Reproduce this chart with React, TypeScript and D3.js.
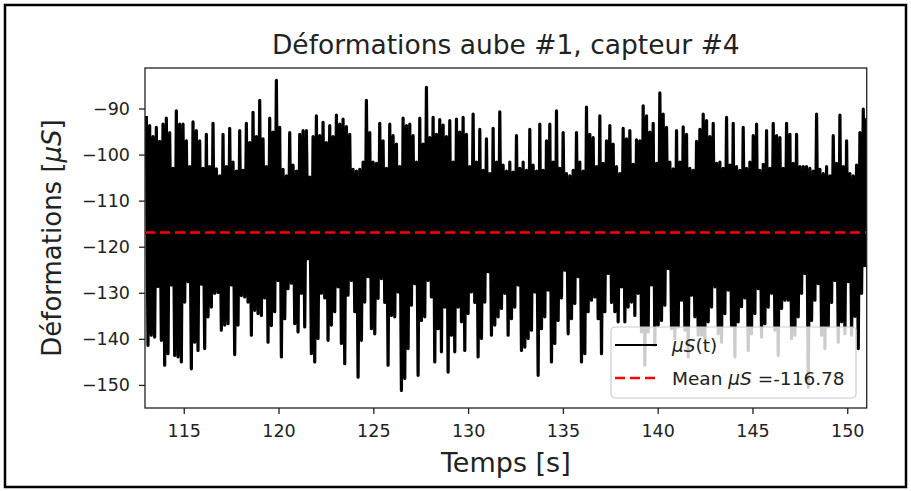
import React from "react";
import * as d3 from "d3";

const W = 911;
const H = 491;

// sampling of the displayed signal (one high/low oscillation per period)
const sampleStart = 113.0;
const samplePeriod = 0.1759;

const peaksHigh = [
  -91.5, -93.6, -96, -94, -97, -93.3, -92, -95.1, -102.9, -90.4,
  -93.3, -93.3, -96.9, -102.5, -92.8, -94.7, -96.9, -102.9, -95.5, -102.5,
  -93.1, -103, -104.5, -95.5, -102.5, -94.2, -101.5, -103.5, -94.7, -103.3,
  -93.1, -97.3, -90.7, -96, -88.1, -96.5, -102.5, -92, -95, -83.8,
  -94, -103.1, -104.5, -95.1, -102.2, -103.5, -95.5, -94.7, -94.7, -104.8,
  -96, -91.5, -95.8, -92.9, -97.3, -93.6, -96, -91.3, -93.3, -92.2,
  -93.8, -95.5, -103.1, -103.5, -103.1, -101.5, -88.1, -95.1, -101.5, -101.8,
  -93.1, -96.9, -102.9,
  -93.3, -95.8, -97.6, -102.5, -92, -93.6, -93.3, -95.8, -101.5, -92,
  -97.6, -85.3, -96.2, -91.8, -95.5, -92.3, -93.5, -96, -92.5, -101.5,
  -92.2, -95, -91.8, -95.5, -102.5, -91.1, -101.5, -94.4, -103.3, -96.5,
  -104, -94.2, -101.5, -90.6, -102.2, -103.5, -101.5, -103.7, -95.8, -102.9,
  -101.5, -103.3, -94.4, -102.2, -103.5, -93.3, -103.3, -96.9, -93.3, -101.5,
  -90.4, -102.9, -95.1, -104, -104.5, -103.3, -95.1, -101.5, -103.5, -89.6,
  -95.5, -96.2, -102.5, -91.5, -101.8, -96.9, -93.6, -97.6, -102.5, -104,
  -94.2, -96.5,
  -94.7, -102, -96.7, -96.9, -89.3, -91.5, -95, -93.1, -101.8, -86.5,
  -91.1, -94, -101.5, -103, -94.7, -101.5, -93.9, -95.5, -102.9, -103.3,
  -97, -94.4, -91.1, -92.5, -96, -93.1, -101.8, -101.5, -102.9, -91.8,
  -102.2, -93.1, -102.5, -103.3, -94, -102.9, -101.5, -95.8, -93.3, -103.3,
  -102, -94.7, -102.9, -93.1, -95.8, -96.2, -102.9, -93.1, -95.5, -101.8,
  -95.5, -102.5, -102.5, -102.5, -102.9, -103.5, -91.1, -103.1, -104, -102.5,
  -104.5, -95.8, -101.8, -91.3, -102.5, -96.9, -104, -104.5, -102.2, -95.1,
  -90, -92.2,
];

const peaksLow = [
  -141.3, -139.1, -139.5, -128.5, -140.2, -145.6, -143.1, -128.2, -143.5, -143.8,
  -144.9, -131.9, -127.5, -146.4, -140.6, -142.4, -128, -142, -135.1, -133,
  -130, -129.8, -138, -136.9, -136.6, -128.2, -143.3, -136.9, -130.5, -130.8,
  -131.9, -139.1, -133.7, -134.4, -134.8, -131, -140.6, -137, -134, -127.2,
  -143.8, -135.5, -129, -127.8, -136.6, -138.4, -130, -137.3, -122.5, -143.1,
  -144.9, -139.8, -130, -131, -140.2, -136.9, -134, -128.6, -140.9, -145.3,
  -130.4, -127.2, -134, -148.2, -140.2, -131.9, -126.4, -137.7, -138.8, -131.1,
  -126.8, -132, -145.6,
  -134.8, -135.1, -129.7, -151.1, -148.5, -142, -132.6, -127.9, -147.8, -135.9,
  -135.1, -127.2, -130.8, -144.9, -137.7, -142.7, -133, -147.1, -139.1, -142.7,
  -133, -136.2, -142.4, -134.4, -129.7, -132, -143.8, -139.8, -131.9, -125.3,
  -139.1, -136.9, -135.1, -133.3, -130, -139.1, -135.5, -133, -128.2, -142.4,
  -141.7, -139.8, -138, -129.7, -147.8, -137.7, -135.1, -129.3, -144.9, -140.9,
  -135.9, -131, -125, -138.8, -135.5, -132.2, -126.4, -144.9, -143.1, -134,
  -131.5, -130.8, -135.5, -143.1, -134, -125.7, -132, -134, -136.2, -128.6,
  -136.2, -133,
  -131.9, -134.8, -130, -138.4, -145.6, -138.4, -128.2, -141.3, -136.9, -135.9,
  -132.6, -124.6, -137.7, -139.8, -137.3, -131.5, -138, -143.8, -130.4, -135.1,
  -139.1, -139.1, -139.8, -136.2, -133, -128.6, -138.8, -140.6, -134.4, -129.3,
  -137, -143.8, -136.2, -132.9, -131, -142.4, -138.8, -134.4, -129, -139.5,
  -136.6, -133, -130, -138, -143.5, -133.3, -131.5, -131.5, -139.8, -139.1,
  -135.1, -130, -125.7, -150.4, -135.9, -131.5, -127.9, -139.1, -142, -137.3,
  -132, -127.2, -140.6, -136.2, -138.8, -127.5, -139.1, -135, -142, -130,
  -124, -127,
];

const meanValue = -116.78;
const xTicks = [115, 120, 125, 130, 135, 140, 145, 150];
const yTicks = [-150, -140, -130, -120, -110, -100, -90];
const xDomain = [112.93, 151.0];
const yDomain = [-154.9, -81.1];

const titleText = "Déformations aube #1, capteur #4";
const xLabelText = "Temps [s]";

const FONT = "'DejaVu Sans', sans-serif";

export default function App() {
  const left = 145;
  const right = 866.7;
  const top = 68;
  const bottom = 408;

  const x = d3.scaleLinear().domain(xDomain).range([left, right]);
  const y = d3.scaleLinear().domain(yDomain).range([bottom, top]);

  const pts: [number, number][] = [];
  peaksHigh.forEach((v, i) => {
    pts.push([sampleStart + i * samplePeriod, v]);
    pts.push([sampleStart + (i + 0.5) * samplePeriod, peaksLow[i]]);
  });
  const line = d3
    .line<[number, number]>()
    .x((d) => x(d[0]))
    .y((d) => y(d[1]));

  const fmt = (v: number) => (v < 0 ? "\u2212" + Math.abs(v) : String(v));
  const ym = y(meanValue);

  const lgX = 611;
  const lgY = 327;
  const lgW = 245;
  const lgH = 71;

  return (
    <svg
      width={W}
      height={H}
      style={{ position: "fixed", left: 0, top: 0, background: "#fff" }}
      fontFamily={FONT}
    >
      <rect x={0} y={0} width={W} height={H} fill="#fff" />
      <rect x={5} y={5} width={901} height={482} fill="none" stroke="#000" strokeWidth={2.5} />
      <defs>
        <clipPath id="plotclip">
          <rect x={left} y={top} width={right - left} height={bottom - top} />
        </clipPath>
      </defs>
      <g clipPath="url(#plotclip)">
        <path d={line(pts) || ""} fill="none" stroke="#000" strokeWidth={3.2} strokeLinejoin="round" />
        <line x1={left} x2={right} y1={ym} y2={ym} stroke="#ff0000" strokeWidth={2.5} strokeDasharray="10,5" />
      </g>
      {/* legend */}
      <rect x={lgX} y={lgY} width={lgW} height={lgH} rx={4} fill="#fff" fillOpacity={0.8} stroke="#cccccc" strokeWidth={1.2} />
      <line x1={615} x2={657} y1={345} y2={345} stroke="#000" strokeWidth={2} />
      <text x={672} y={352} fontSize={18.5} fill="#222">
        <tspan fontStyle="italic">μS</tspan>
        <tspan>(t)</tspan>
      </text>
      <line x1={615} x2={657} y1={378} y2={378} stroke="#ff0000" strokeWidth={2.5} strokeDasharray="10,5" />
      <text x={672} y={385} fontSize={18.5} fill="#222">
        <tspan>Mean </tspan>
        <tspan fontStyle="italic">μS</tspan>
        <tspan> =-116.78</tspan>
      </text>
      {/* axes frame */}
      <rect x={left} y={top} width={right - left} height={bottom - top} fill="none" stroke="#222" strokeWidth={1.3} />
      {xTicks.map((t) => (
        <g key={"x" + t}>
          <line x1={x(t)} x2={x(t)} y1={bottom} y2={bottom + 6} stroke="#222" strokeWidth={1.3} />
          <text x={x(t)} y={bottom + 29} fontSize={17.5} textAnchor="middle" fill="#222">
            {String(t)}
          </text>
        </g>
      ))}
      {yTicks.map((t) => (
        <g key={"y" + t}>
          <line x1={left - 6} x2={left} y1={y(t)} y2={y(t)} stroke="#222" strokeWidth={1.3} />
          <text x={left - 15} y={y(t)} fontSize={17.5} textAnchor="end" dominantBaseline="central" fill="#222">
            {fmt(t)}
          </text>
        </g>
      ))}
      <text x={(left + right) / 2} y={54} fontSize={26.5} textAnchor="middle" fill="#222">
        {titleText}
      </text>
      <text x={(left + right) / 2} y={472} fontSize={27} textAnchor="middle" fill="#222">
        {xLabelText}
      </text>
      <text
        transform={`translate(52, 238) rotate(-90)`}
        fontSize={26}
        textAnchor="middle"
        dominantBaseline="central"
        fill="#222"
      >
        <tspan>Déformations [</tspan>
        <tspan fontStyle="italic">μS</tspan>
        <tspan>]</tspan>
      </text>
    </svg>
  );
}
